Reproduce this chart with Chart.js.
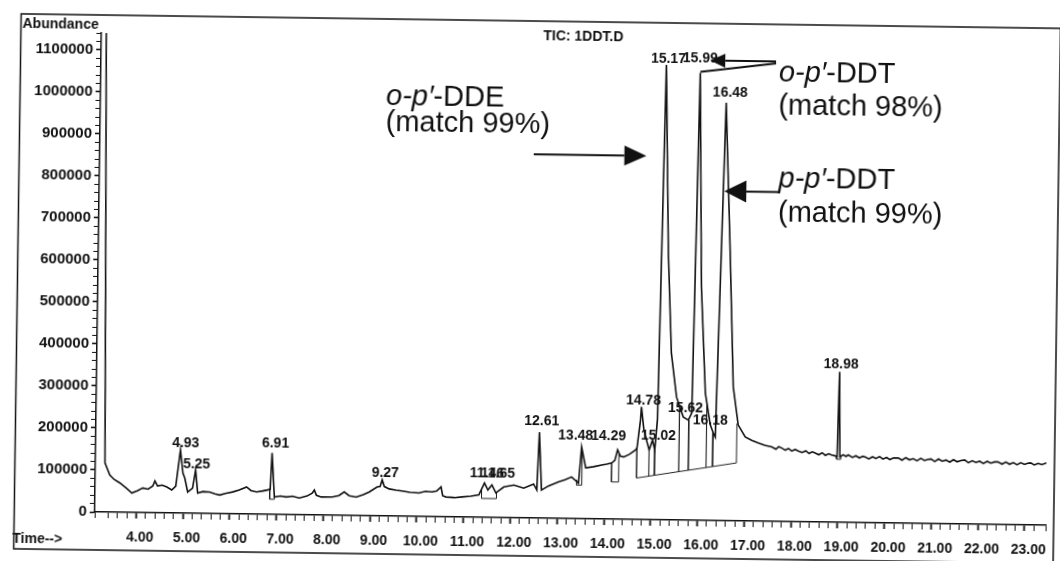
<!DOCTYPE html>
<html>
<head>
<meta charset="utf-8">
<title>TIC: 1DDT.D</title>
<script src="https://cdn.jsdelivr.net/npm/chart.js"></script>
<style>
  html, body { margin: 0; padding: 0; background: #fff; overflow: hidden; }
  /* the scanned page is slightly tilted */
  #wrap { width: 1060px; height: 561px; transform: rotate(0.8deg); transform-origin: 50% 50%; }
</style>
</head>
<body>
<div id="wrap"><canvas id="tic" width="1060" height="561"></canvas></div>
<script>
const chartTitle = "TIC: 1DDT.D";

// total ion chromatogram (time in min, abundance)
const retentionTime = [
  3.115, 3.20, 3.22, 3.27, 3.32, 3.425, 3.52, 3.646, 3.78, 3.902,
  4.02, 4.137, 4.25, 4.35, 4.393, 4.45, 4.55, 4.649, 4.755, 4.84,
  4.93, 4.99, 5.03, 5.096, 5.20, 5.26, 5.31, 5.42, 5.565, 5.68,
  5.78, 5.92, 6.056, 6.20, 6.354, 6.45, 6.567, 6.68, 6.802, 6.86,
  6.89, 6.951, 7.08, 7.207, 7.34, 7.484, 7.65, 7.76, 7.804, 7.85,
  7.953, 8.188, 8.33, 8.444, 8.55, 8.70, 8.85, 8.977, 9.147, 9.21,
  9.252, 9.30, 9.404, 9.55, 9.68, 9.85, 10.043, 10.18, 10.32, 10.42,
  10.512, 10.55, 10.62, 10.80, 10.96, 11.15, 11.323, 11.44, 11.515, 11.60,
  11.685, 11.855, 12.07, 12.28, 12.49, 12.56, 12.60, 12.66, 12.81, 13.02,
  13.16, 13.30, 13.45, 13.506, 13.60, 13.76, 13.94, 14.05, 14.155, 14.22,
  14.276, 14.34, 14.41, 14.53, 14.66, 14.69, 14.757, 14.774, 14.83, 14.89,
  14.95, 15.02, 15.07, 15.12, 15.205, 15.303, 15.397, 15.52, 15.67, 15.78,
  15.85, 15.932, 16.02, 16.135, 16.25, 16.316, 16.36, 16.495, 16.625, 16.73,
  16.847, 17.0, 17.14, 17.28, 17.42, 17.57, 17.66, 17.72, 17.78, 17.86,
  17.93, 18.00, 18.07, 18.14, 18.22, 18.30, 18.37, 18.44, 18.50, 18.58,
  18.65, 18.72, 18.79, 18.85, 18.93, 18.97, 19.00, 19.03, 19.10, 19.16,
  19.21, 19.30, 19.37, 19.45, 19.52, 19.57, 19.65, 19.73, 19.80, 19.88,
  19.95, 20.03, 20.10, 20.18, 20.28, 20.36, 20.44, 20.52, 20.60, 20.68,
  20.76, 20.84, 20.92, 20.98, 21.06, 21.14, 21.22, 21.30, 21.38, 21.46,
  21.54, 21.62, 21.70, 21.78, 21.86, 21.94, 22.02, 22.10, 22.18, 22.26,
  22.34, 22.41, 22.50, 22.58, 22.66, 22.74, 22.82, 22.90, 22.98, 23.05,
  23.11, 23.19, 23.27, 23.35, 23.45
];
const abundance = [
  1200000, 1200000, 1140000, 640000, 117000, 88400, 78000, 69700, 58000, 46400,
  52000, 58600, 56000, 63700, 75600, 64000, 66000, 61800, 54800, 64000,
  150200, 95000, 83800, 50500, 60000, 103200, 48300, 52000, 51000, 47000,
  44400, 49000, 52100, 57000, 64400, 56000, 52900, 55000, 58000, 60000,
  146300, 41500, 44000, 42000, 44000, 40000, 45000, 52000, 59500, 47000,
  43100, 43500, 47000, 55800, 47000, 44200, 50000, 56600, 68900, 70000,
  85700, 70000, 64500, 62000, 60200, 57000, 56000, 60000, 58800, 61000,
  71000, 50000, 47300, 46000, 47900, 50000, 53200, 82000, 65400, 77500,
  58600, 73000, 78000, 71000, 81000, 67000, 204700, 67000, 77000, 86700,
  92000, 99100, 85000, 171000, 121000, 124000, 128600, 131000, 133800, 140000,
  165000, 150000, 148400, 155000, 165500, 170000, 237000, 268000, 215000, 189500,
  166000, 189800, 166000, 240000, 1083000, 635500, 397000, 292900, 245500, 238300,
  255000, 1065000, 555500, 303300, 227600, 208300, 198800, 994500, 637600, 318600,
  228300, 200000, 192000, 186200, 181000, 177100, 172000, 178000, 175200, 170000,
  174000, 168000, 172000, 168600, 165000, 169000, 163000, 167000, 164300, 160000,
  165000, 159000, 163000, 160200, 158000, 157000, 358100, 156000, 161000, 157000,
  160700, 155000, 159000, 154000, 158000, 156500, 152000, 157000, 153000, 158000,
  152000, 156000, 151000, 155000, 155200, 150000, 156000, 151000, 154000, 149000,
  155000, 150000, 153000, 153800, 148000, 154000, 149000, 152000, 147000, 153000,
  148000, 151000, 152600, 146000, 151000, 147000, 150000, 145000, 150000, 146000,
  149000, 149000, 144000, 149000, 144000, 148000, 143000, 148000, 144000, 147000,
  147900, 143000, 147000, 144000, 148300
];

// integration outlines (start drop, baseline, end drop)
const intStartTime = [6.85, 11.38, 13.41, 14.155, 14.69, 18.96];
const intEndTime = [6.95, 11.70, 13.52, 14.305, 16.82, 19.05];
const intStartTop = [59500, 65000, 92000, 133800, 170000, 157500];
const intStartBase = [36000, 45000, 80000, 88600, 98800, 150000];
const intEndBase = [36000, 45000, 80000, 88600, 137900, 150000];
const intEndTop = [41500, 60000, 160000, 155000, 232000, 157500];
// extra drop lines inside the big cluster
const dropTime = [14.95, 15.07, 15.59, 15.79, 16.17, 16.31];
const dropTop = [166000, 166000, 271000, 238000, 280000, 208000];
const dropBase = [103600, 105800, 115300, 119000, 126000, 128500];

// retention time labels over the peaks
const peakLabels = ["4.93", "5.25", "6.91", "9.27", "11.46", "11.65", "12.61", "13.48", "14.29",
  "14.78", "15.02", "15.17", "15.99", "15.62", "16.18", "16.48", "18.98"];
const peakLabelTime = [5.04, 5.28, 6.96, 9.316, 11.49, 11.725, 12.647, 13.375, 14.079,
  14.815, 15.145, 15.248, 15.93, 15.717, 16.25, 16.578, 19.03];
const peakLabelAbund = [157600, 107900, 160500, 92900, 96200, 96200, 221900, 187400, 188100,
  272900, 190000, 1088100, 1089000, 257600, 227400, 1008800, 367600];

// compound call-outs
const calloutName = ["o-p\u2032", "o-p\u2032", "p-p\u2032"];
const calloutSuffix = ["-DDE", "-DDT", "-DDT"];
const calloutMatch = ["(match 99%)", "(match 98%)", "(match 99%)"];
const calloutTime = [9.22, 17.61, 17.635];
const calloutAbund = [978600, 1046400, 794000];
const calloutMatchAbund = [916700, 967900, 713100];

// arrows (from -> to), head 0 = plain line
const arrowFromTime = [12.395, 17.548, 17.55, 17.632];
const arrowFromAbund = [866000, 1095000, 1090000, 784000];
const arrowToTime = [14.804, 16.141, 15.932, 16.48];
const arrowToAbund = [866000, 1095000, 1067600, 784000];
const arrowHead = [[22, 10], [15, 7], [0, 0], [22, 11]];

const xTicksMin = 3.115;
const xTicksMax = 23.45;
const yTicksMax = 1140000;

const FONT = "'Liberation Sans', Arial, sans-serif";
const INK = "#111";

function isWhole(v) {
  return Math.abs(v - Math.round(v)) < 1e-6;
}

function buildTrace() {
  return retentionTime.map((t, i) => ({ x: t, y: abundance[i] }));
}

function buildIntegration() {
  const pts = [];
  intStartTime.forEach((t0, i) => {
    const t1 = intEndTime[i];
    pts.push({ x: t0, y: intStartTop[i] });
    pts.push({ x: t0, y: intStartBase[i] });
    pts.push({ x: t1, y: intEndBase[i] });
    pts.push({ x: t1, y: intEndTop[i] });
    pts.push({ x: t1, y: null });
  });
  dropTime.forEach((t, i) => {
    pts.push({ x: t, y: dropTop[i] });
    pts.push({ x: t, y: dropBase[i] });
    pts.push({ x: t, y: null });
  });
  return pts;
}

function drawArrow(ctx, x1, y1, x2, y2, head, half) {
  const ang = Math.atan2(y2 - y1, x2 - x1);
  const cos = Math.cos(ang);
  const sin = Math.sin(ang);
  ctx.lineWidth = 2;
  ctx.beginPath();
  ctx.moveTo(x1, y1);
  ctx.lineTo(x2 - head * cos, y2 - head * sin);
  ctx.stroke();
  if (head > 0) {
    ctx.beginPath();
    ctx.moveTo(x2, y2);
    ctx.lineTo(x2 - head * cos + half * sin, y2 - head * sin - half * cos);
    ctx.lineTo(x2 - head * cos - half * sin, y2 - head * sin + half * cos);
    ctx.closePath();
    ctx.fill();
  }
}

const overlay = {
  id: "overlay",
  afterDraw(chart) {
    const { ctx, chartArea } = chart;
    const x = chart.scales.x;
    const y = chart.scales.y;
    ctx.save();
    ctx.fillStyle = INK;
    ctx.strokeStyle = INK;

    // page frame
    ctx.lineWidth = 1.5;
    ctx.strokeRect(17.5, 21, 1039.5, 535);

    ctx.font = "bold 14px " + FONT;
    ctx.textBaseline = "alphabetic";
    ctx.textAlign = "left";
    ctx.fillText("Abundance", 19, 35);
    ctx.fillText("Time-->", 16, 550);
    ctx.textAlign = "center";
    ctx.fillText(chartTitle, 580, chartArea.top + 1);

    // peak labels
    peakLabels.forEach((txt, i) => {
      ctx.fillText(txt, x.getPixelForValue(peakLabelTime[i]), y.getPixelForValue(peakLabelAbund[i]));
    });

    // call-outs
    ctx.textAlign = "left";
    calloutName.forEach((name, i) => {
      const px = x.getPixelForValue(calloutTime[i]);
      ctx.font = "italic 29px " + FONT;
      ctx.fillText(name, px, y.getPixelForValue(calloutAbund[i]));
      const w = ctx.measureText(name).width;
      ctx.font = "29px " + FONT;
      ctx.fillText(calloutSuffix[i], px + w, y.getPixelForValue(calloutAbund[i]));
      ctx.fillText(calloutMatch[i], px, y.getPixelForValue(calloutMatchAbund[i]));
    });

    arrowFromTime.forEach((t, i) => {
      drawArrow(
        ctx,
        x.getPixelForValue(t),
        y.getPixelForValue(arrowFromAbund[i]),
        x.getPixelForValue(arrowToTime[i]),
        y.getPixelForValue(arrowToAbund[i]),
        arrowHead[i][0],
        arrowHead[i][1]
      );
    });
    ctx.restore();
  },
};

Chart.defaults.font.family = FONT;
Chart.defaults.color = INK;

const ctx = document.getElementById("tic").getContext("2d");
new Chart(ctx, {
  type: "line",
  data: {
    datasets: [
      {
        label: chartTitle,
        data: buildTrace(),
        borderColor: INK,
        borderWidth: 1.6,
        pointRadius: 0,
        tension: 0,
      },
      {
        label: "integration",
        data: buildIntegration(),
        borderColor: "#222",
        borderWidth: 1,
        pointRadius: 0,
        spanGaps: false,
      },
    ],
  },
  options: {
    responsive: false,
    devicePixelRatio: 1,
    animation: false,
    layout: { padding: { left: 0, right: 8, top: 39, bottom: 0 } },
    scales: {
      x: {
        type: "linear",
        min: xTicksMin,
        max: xTicksMax,
        afterFit: (scale) => { scale.height = 43; },
        border: { display: true, color: INK, width: 1.5 },
        grid: {
          drawOnChartArea: false,
          drawTicks: true,
          tickLength: 6,
          tickColor: INK,
          tickWidth: (c) => (c.tick && isWhole(c.tick.value) ? 1.8 : 1),
        },
        ticks: {
          stepSize: 0.2,
          autoSkip: false,
          maxRotation: 0,
          minRotation: 0,
          padding: 11,
          labelOffset: 4,
          color: INK,
          font: { size: 14, weight: "bold" },
          callback: (v) => (isWhole(v) && v >= 4 ? Number(v).toFixed(2) : ""),
        },
      },
      y: {
        type: "linear",
        min: 0,
        max: yTicksMax,
        afterFit: (scale) => { scale.width = 98; },
        border: { display: true, color: INK, width: 1.5 },
        grid: {
          drawOnChartArea: false,
          drawTicks: true,
          tickLength: 5,
          tickColor: INK,
          tickWidth: (c) => (c.tick && Math.round(c.tick.value) % 100000 === 0 ? 1.6 : 1),
        },
        ticks: {
          stepSize: 20000,
          autoSkip: false,
          padding: 3,
          color: INK,
          font: { size: 15, weight: "bold" },
          callback: (v) => (Math.round(v) % 100000 === 0 ? String(Math.round(v)) : ""),
        },
      },
    },
    plugins: {
      legend: { display: false },
      tooltip: { enabled: false },
      title: { display: false },
    },
  },
  plugins: [overlay],
});
</script>
</body>
</html>
